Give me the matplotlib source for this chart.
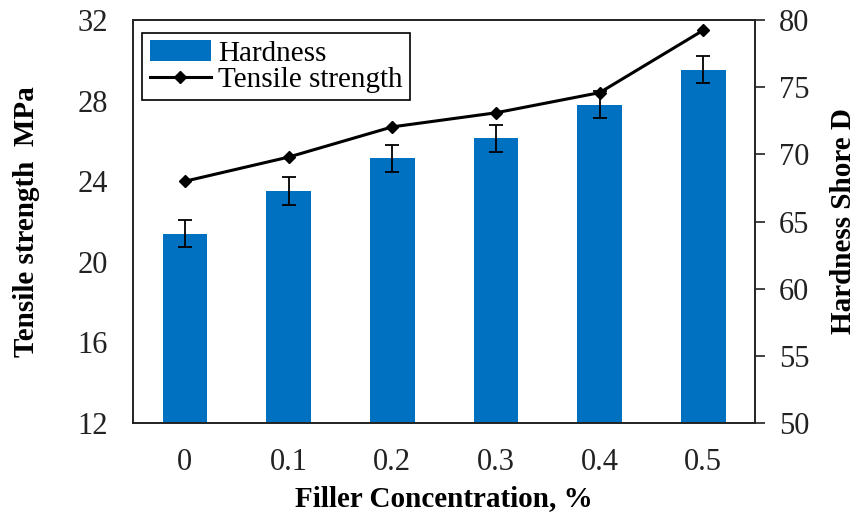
import matplotlib
matplotlib.use("Agg")
import matplotlib.pyplot as plt
import numpy as np

categories = ["0", "0.1", "0.2", "0.3", "0.4", "0.5"]
hardness = [64.1, 67.3, 69.7, 71.2, 73.7, 76.3]
hardness_err = [1.0, 1.05, 1.0, 1.0, 1.0, 1.0]
tensile = [24.0, 25.2, 26.7, 27.4, 28.4, 31.5]

plt.rcParams['font.family'] = ['Liberation Serif', 'DejaVu Serif']

fig = plt.figure(figsize=(8.64, 5.17), dpi=100)
ax = fig.add_axes([0.154, 0.182, 0.720, 0.779])
x = np.arange(len(categories))

bars = ax.bar(x, hardness, width=0.43, color="#0070C0", label="Hardness", zorder=2)
ax.errorbar(x, hardness, yerr=hardness_err, fmt="none", ecolor="black",
            elinewidth=1.3, capsize=5, capthick=1.3, zorder=3)
ax.set_ylim(50, 80)
ax.set_yticks(np.arange(50, 81, 5))
ax.set_xlim(-0.5, len(categories) - 0.5)
ax.set_xticks(x)
ax.set_xticklabels(categories)

ax2 = ax.twinx()
line, = ax2.plot(x, tensile, color="black", lw=2.2, marker="D", markersize=6.5,
                 label="Tensile strength", zorder=4)
ax2.set_ylim(12, 32)
ax2.set_yticks(np.arange(12, 33, 4))

# host axis (hardness) on the right, twin (tensile) on the left
ax.yaxis.tick_right()
ax.yaxis.set_label_position("right")
ax2.yaxis.tick_left()
ax2.yaxis.set_label_position("left")

ax.set_ylabel("Hardness Shore D", fontsize=21, fontweight="bold", labelpad=15)
ax.set_xlabel("Filler Concentration, %", fontsize=21, fontweight="bold", labelpad=6)
ax.tick_params(axis="y", which="both", left=False, right=True, labelleft=False, labelright=True,
               direction="out", length=7, width=1.2, labelsize=22, pad=10, colors="#222222")
ax.tick_params(axis="x", length=0, labelsize=22, pad=18, colors="#222222")

ax2.set_ylabel("Tensile strength  MPa", fontsize=21, fontweight="bold", labelpad=27)
ax2.tick_params(axis="y", which="both", left=True, right=False, labelleft=True, labelright=False,
                length=0, labelsize=22, pad=18, colors="#222222")
ax2.tick_params(axis="x", length=0)

for a in (ax, ax2):
    for s in a.spines.values():
        s.set_linewidth(1.2)
        s.set_color("#222222")

leg = ax2.legend([bars, line], ["Hardness", "Tensile strength"], loc="upper left",
                 bbox_to_anchor=(0.015, 0.968), fontsize=21, frameon=True, fancybox=False,
                 edgecolor="black", framealpha=1, borderpad=0.25, labelspacing=0.0,
                 handlelength=2.1, handletextpad=0.25, borderaxespad=0)
leg.get_frame().set_linewidth(1.2)

fig.savefig("out.png", dpi=100)
